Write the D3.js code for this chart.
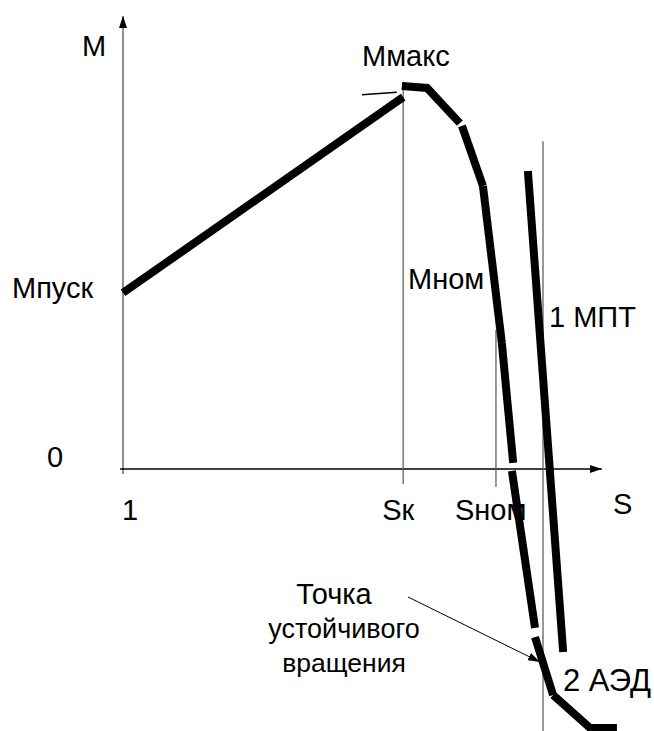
<!DOCTYPE html>
<html><head><meta charset="utf-8">
<script src="https://cdn.jsdelivr.net/npm/d3@7"></script>
<style>body{margin:0;background:#fff}svg{display:block}text{font-family:"Liberation Sans",Arial,sans-serif;fill:#000}</style>
</head><body>
<script>
// Slip (s) on the horizontal axis, torque (m, relative to Mmax) on the vertical axis
const aedSegments = [ // characteristic 2 (АЭД), drawn as joined thick strokes
  [[1.0, 0.46], [0.333, 0.971]],
  [[0.336, 1.0], [0.276, 0.995], [0.198, 0.903]],
  [[0.193, 0.896], [0.143, 0.739]],
  [[0.143, 0.739], [0.098, 0.329]],
  [[0.098, 0.329], [0.071, 0.016]],
  [[0.074, -0.005], [0.019, -0.415]],
  [[0.019, -0.439], [-0.024, -0.59]],
  [[-0.024, -0.59], [-0.112, -0.676], [-0.176, -0.676]]
];
const mptLine = [[0.036, 0.778], [-0.048, -0.478]]; // characteristic 1 (МПТ)
const tangent = [[0.431, 0.977], [0.348, 0.984]];
const refLines = [ // vertical guides: s, m top, m bottom
  {s: 0.333, m0: 0.995, m1: -0.039},
  {s: 0.112, m0: 0.363, m1: -0.047},
  {s: 0.0, m0: 0.856, m1: -0.684}
];
const xTicks = [{s: 1.0, label: "1", dx: -1}, {s: 0.333, label: "Sк", dx: -21}, {s: 0.112, label: "Sном", dx: -41}];
const yTicks = [{m: 0, label: "0", px: 47, dy: -2}, {m: 0.46, label: "Мпуск", px: 12, dy: 5}];
const noteLines = ["Точка", "устойчивого", "вращения"];

const W = 654, H = 731;
const x = d3.scaleLinear().domain([1, 0]).range([123, 543]);
const y = d3.scaleLinear().domain([0, 1]).range([469, 86]);

const svg = d3.select("body").append("svg").attr("width", W).attr("height", H);
const defs = svg.append("defs");
defs.append("marker").attr("id","arr").attr("viewBox","0 0 12 8").attr("refX",12).attr("refY",4)
  .attr("markerWidth",12).attr("markerHeight",8).attr("markerUnits","userSpaceOnUse").attr("orient","auto")
  .append("path").attr("d","M0,0L12,4L0,8Z").attr("fill","#000");

const line = d3.line().x(d => x(d[0])).y(d => y(d[1]));

// axes
svg.append("line").attr("x1", x(1)).attr("x2", x(1)).attr("y1", y(-0.013)).attr("y2", y(1.183))
  .attr("stroke","#444").attr("stroke-width",1.2).attr("marker-end","url(#arr)");
svg.append("line").attr("x1", x(1.007)).attr("x2", x(-0.14)).attr("y1", y(0)).attr("y2", y(0))
  .attr("stroke","#000").attr("stroke-width",1.3).attr("marker-end","url(#arr)");

// reference lines
svg.selectAll(".ref").data(refLines).enter().append("line")
  .attr("x1", d => x(d.s)).attr("x2", d => x(d.s)).attr("y1", d => y(d.m0)).attr("y2", d => y(d.m1))
  .attr("stroke","#555").attr("stroke-width",1.2);
svg.append("path").attr("d", line(tangent)).attr("stroke","#000").attr("stroke-width",1.5).attr("fill","none");

// curves
svg.selectAll(".seg").data(aedSegments).enter().append("path")
  .attr("d", line).attr("fill","none").attr("stroke","#000").attr("stroke-width",8)
  .attr("stroke-linecap","butt").attr("stroke-linejoin","miter");
svg.append("path").attr("d", line(mptLine)).attr("fill","none").attr("stroke","#000").attr("stroke-width",8);

// annotation arrow
svg.append("line").attr("x1",408).attr("y1",597).attr("x2",540).attr("y2",662)
  .attr("stroke","#000").attr("stroke-width",1).attr("marker-end","url(#arr)");

function t(tx, ty, s, anchor, fs) {
  svg.append("text").attr("x", tx).attr("y", ty).attr("font-size", fs || 29).attr("text-anchor", anchor || "start").text(s);
}
t(82, 56, "М");
t(362, 66, "Ммакс");
yTicks.forEach(d => t(d.px, y(d.m) + d.dy, d.label));
t(408, 289, "Мном");
t(549, 327, "1 МПТ");
t(563, 691, "2 АЭД", "start", 31);
t(613, 514, "S");
xTicks.forEach(d => t(x(d.s) + d.dx, 520, d.label));
t(334, 604, noteLines[0], "middle", 29);
t(344, 638, noteLines[1], "middle", 27);
t(344, 672, noteLines[2], "middle", 26.5);
</script>
</body></html>
